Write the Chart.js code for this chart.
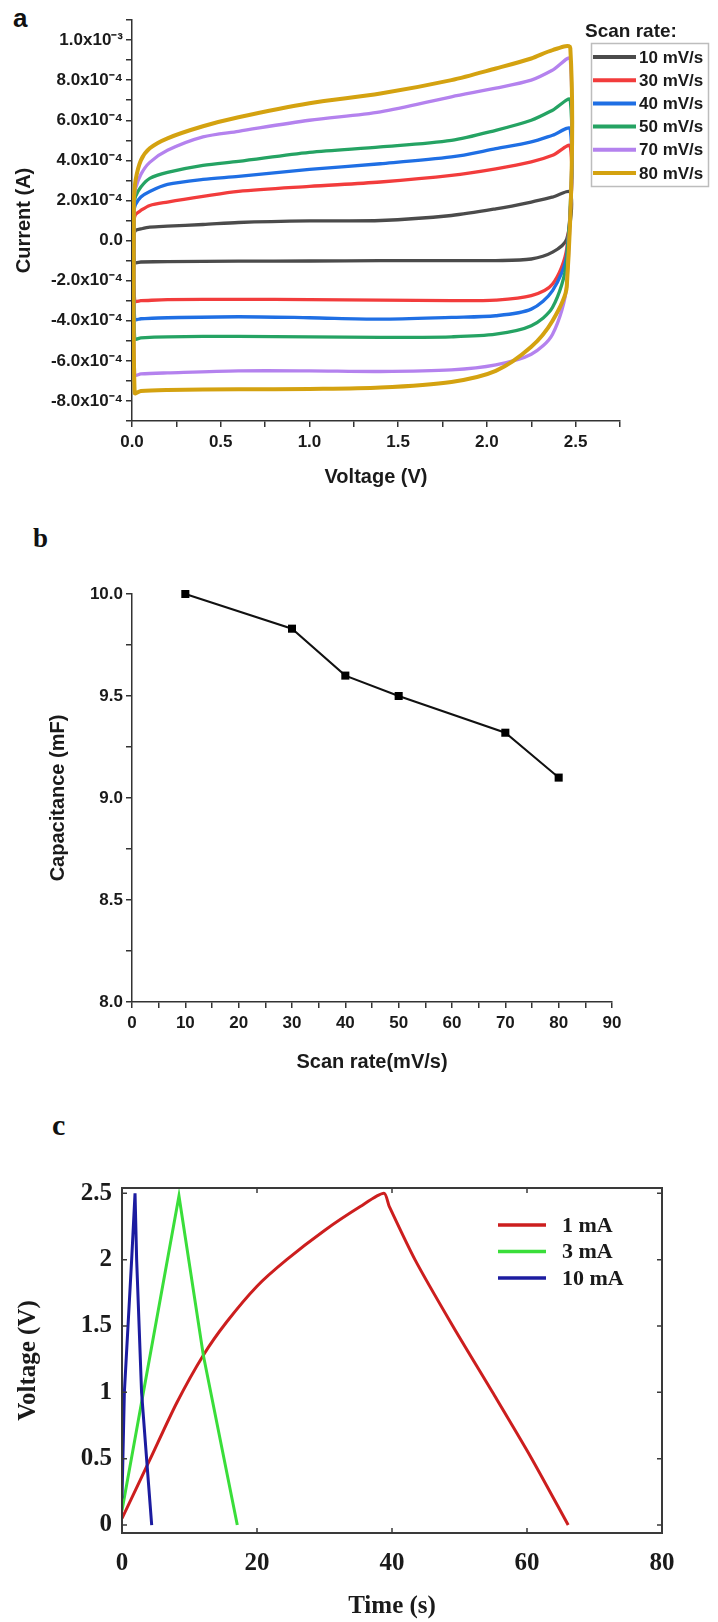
<!DOCTYPE html>
<html><head><meta charset="utf-8">
<script src="https://cdn.jsdelivr.net/npm/chart.js@4.4.0/dist/chart.umd.min.js"></script>
<style>
html,body{margin:0;padding:0;background:#fff;}
body{width:718px;height:1622px;position:relative;overflow:hidden;}
canvas{position:absolute;left:0;}
.lbl{position:absolute;color:#111;}
</style></head><body>
<div class="lbl" style="left:13px;top:5px;font:bold 26px/1 'Liberation Sans',Arial,sans-serif;">a</div>
<div class="lbl" style="left:33px;top:525px;font:bold 27px/1 'Liberation Serif','Times New Roman',serif;">b</div>
<div class="lbl" style="left:52px;top:1110px;font:bold 30px/1 'Liberation Serif','Times New Roman',serif;">c</div>
<canvas id="ca" width="718" height="500" style="top:0"></canvas>
<canvas id="cb" width="718" height="580" style="top:500px"></canvas>
<canvas id="cc" width="718" height="542" style="top:1080px"></canvas>
<script>
// ---------------- Panel a : cyclic voltammetry (current in units of 1e-4 A) ----------------
const cvSeriesLabels = ['10 mV/s', '30 mV/s', '40 mV/s', '50 mV/s', '70 mV/s', '80 mV/s'];
const cvForwardVoltage = [0.01, 0.02, 0.05, 0.1, 0.2, 0.4, 0.6, 1.0, 1.4, 1.8, 2.05, 2.25, 2.37, 2.47];
const cvReverseVoltage = [2.45, 2.37, 2.25, 2.05, 1.8, 1.4, 1.0, 0.6, 0.2, 0.05, 0.015];
const cvForward10 = [0.3, 0.5, 0.58, 0.67, 0.72, 0.8, 0.9, 0.98, 1.0, 1.25, 1.58, 1.92, 2.17, 2.4];
const cvForward30 = [1.0, 1.3, 1.5, 1.75, 1.92, 2.2, 2.45, 2.7, 2.92, 3.25, 3.58, 3.92, 4.25, 4.7];
const cvForward40 = [1.5, 1.8, 2.17, 2.45, 2.8, 3.05, 3.2, 3.55, 3.83, 4.17, 4.58, 4.92, 5.25, 5.55];
const cvForward50 = [1.8, 2.2, 2.67, 3.1, 3.4, 3.75, 3.95, 4.4, 4.67, 5.0, 5.5, 6.0, 6.5, 7.0];
const cvForward70 = [2.0, 2.6, 3.3, 3.9, 4.5, 5.17, 5.45, 6.0, 6.42, 7.17, 7.6, 8.0, 8.5, 9.05];
const cvForward80 = [2.0, 3.0, 4.0, 4.6, 5.1, 5.7, 6.15, 6.85, 7.33, 8.0, 8.58, 9.08, 9.5, 9.6];
const cvReverse10 = [0.08, -0.58, -0.92, -1.0, -1.0, -1.0, -1.02, -1.03, -1.05, -1.07, -1.08];
const cvReverse30 = [-0.4, -2.17, -2.75, -2.97, -3.0, -2.97, -2.95, -2.93, -2.95, -3.0, -3.0];
const cvReverse40 = [-0.7, -2.5, -3.42, -3.75, -3.83, -3.92, -3.85, -3.8, -3.85, -3.9, -3.92];
const cvReverse50 = [-1.0, -3.33, -4.25, -4.67, -4.8, -4.83, -4.8, -4.78, -4.8, -4.85, -4.9];
const cvReverse70 = [-2.2, -4.67, -5.67, -6.2, -6.45, -6.53, -6.5, -6.5, -6.6, -6.65, -6.7];
const cvReverse80 = [-2.3, -4.0, -5.3, -6.5, -7.05, -7.33, -7.4, -7.42, -7.45, -7.5, -7.6];
const cvVoltageTickValues = [0, 0.5, 1.0, 1.5, 2.0, 2.5];
const cvVoltageTickLabels = ['0.0', '0.5', '1.0', '1.5', '2.0', '2.5'];
const cvCurrentTickValues = [-8, -6, -4, -2, 0, 2, 4, 6, 8, 10];
const cvCurrentTickLabels = ['-8.0x10\u207B\u2074', '-6.0x10\u207B\u2074', '-4.0x10\u207B\u2074', '-2.0x10\u207B\u2074', '0.0',
  '2.0x10\u207B\u2074', '4.0x10\u207B\u2074', '6.0x10\u207B\u2074', '8.0x10\u207B\u2074', '1.0x10\u207B\u00B3'];

// ---------------- Panel b : capacitance vs scan rate ----------------
const capScanRate = [10, 30, 40, 50, 70, 80];
const capValue = [10.0, 9.83, 9.6, 9.5, 9.32, 9.1];
const capXTickValues = [0, 10, 20, 30, 40, 50, 60, 70, 80, 90];
const capXTickLabels = ['0', '10', '20', '30', '40', '50', '60', '70', '80', '90'];
const capYTickValues = [8.0, 8.5, 9.0, 9.5, 10.0];
const capYTickLabels = ['8.0', '8.5', '9.0', '9.5', '10.0'];

// ---------------- Panel c : galvanostatic charge/discharge ----------------
const gcdLabels = ['1 mA', '3 mA', '10 mA'];
const gcdTime1mA = [0, 4.2, 8.1, 12.05, 15.5, 20, 24.4, 30, 35.3, 38.8, 39.6, 43.4, 49.0, 54.9, 60.7, 66.1];
const gcdVolt1mA = [0.05, 0.5, 0.92, 1.28, 1.53, 1.8, 2.0, 2.22, 2.4, 2.5, 2.4, 2.0, 1.5, 1.0, 0.5, 0.0];
const gcdTime3mA = [0, 8.44, 12.05, 17.08];
const gcdVolt3mA = [0.11, 2.48, 1.28, 0.0];
const gcdTime10mA = [0, 0.35, 1.43, 1.93, 2.17, 2.9, 3.66, 4.4];
const gcdVolt10mA = [0.2, 1.0, 2.0, 2.5, 2.0, 1.0, 0.49, 0.0];
const gcdXTickValues = [0, 20, 40, 60, 80];
const gcdXTickLabels = ['0', '20', '40', '60', '80'];
const gcdYTickValues = [0, 0.5, 1, 1.5, 2, 2.5];
const gcdYTickLabels = ['0', '0.5', '1', '1.5', '2', '2.5'];

// ---------------- styles ----------------
const cvColors = ['#4b4b4b', '#f23c3c', '#1f6fe4', '#25a363', '#b482ee', '#d4a210'];
const gcdColors = ['#cc1e1e', '#3ade3a', '#1c1ca0'];
const SANS = "'Liberation Sans', Arial, sans-serif";
const SERIF = "'Liberation Serif', 'Times New Roman', serif";
const INK = '#1a1a1a';

function labelFor(values, labels) {
  return function (v) {
    for (let i = 0; i < values.length; i++) if (Math.abs(values[i] - v) < 1e-6) return labels[i];
    return '';
  };
}
function loop(fwdV, fwdI, revV, revI) {
  const pts = fwdV.map((v, i) => ({ x: v, y: fwdI[i] }));
  revV.forEach((v, i) => pts.push({ x: v, y: revI[i] }));
  pts.push({ x: fwdV[0], y: fwdI[0] });
  return pts;
}
function xy(xs, ys) { return xs.map((x, i) => ({ x: x, y: ys[i] })); }

// ---- Chart a ----
const cvFwd = [cvForward10, cvForward30, cvForward40, cvForward50, cvForward70, cvForward80];
const cvRev = [cvReverse10, cvReverse30, cvReverse40, cvReverse50, cvReverse70, cvReverse80];

const cvLegend = {
  id: 'cvLegend',
  afterDraw(chart) {
    const ctx = chart.ctx;
    ctx.save();
    ctx.fillStyle = INK; ctx.textAlign = 'left'; ctx.textBaseline = 'middle';
    ctx.font = 'bold 19px ' + SANS;
    ctx.fillText('Scan rate:', 585, 32);
    ctx.strokeStyle = '#bdbdbd'; ctx.lineWidth = 1.5;
    ctx.strokeRect(591.5, 43.5, 117, 143);
    ctx.font = 'bold 17px ' + SANS;
    chart.data.datasets.forEach((ds, i) => {
      const y = 57 + i * 23.2;
      ctx.strokeStyle = ds.borderColor; ctx.lineWidth = 4;
      ctx.beginPath(); ctx.moveTo(593, y); ctx.lineTo(636, y); ctx.stroke();
      ctx.fillStyle = INK; ctx.fillText(ds.label, 639, y + 1);
    });
    ctx.restore();
  }
};

new Chart(document.getElementById('ca'), {
  type: 'line',
  data: {
    datasets: cvSeriesLabels.map((lab, i) => ({
      label: lab,
      data: loop(cvForwardVoltage, cvFwd[i], cvReverseVoltage, cvRev[i]),
      borderColor: cvColors[i],
      borderWidth: i === 5 ? 4 : 3.3,
      pointRadius: 0,
      tension: 0.3,
      fill: false,
      order: 5 - i
    }))
  },
  options: {
    responsive: false, animation: false, devicePixelRatio: 1,
    layout: { padding: { left: 0, top: 20, right: 98, bottom: 0 } },
    plugins: { legend: { display: false }, tooltip: { enabled: false } },
    scales: {
      x: {
        type: 'linear', min: 0, max: 2.75,
        afterFit: s => { s.height = 79; },
        ticks: { stepSize: 0.25, autoSkip: false, maxRotation: 0, padding: 5, color: INK,
          font: { family: SANS, size: 17, weight: 'bold' },
          callback: labelFor(cvVoltageTickValues, cvVoltageTickLabels) },
        grid: { drawOnChartArea: false, drawTicks: true, tickLength: 6, color: '#333', lineWidth: 1.5 },
        border: { display: true, color: '#333', width: 1.5 },
        title: { display: true, text: 'Voltage (V)', color: INK, padding: { top: 0, bottom: 11 },
          font: { family: SANS, size: 20, weight: 'bold' } }
      },
      y: {
        type: 'linear', min: -9, max: 11,
        afterFit: s => { s.width = 132; },
        ticks: { stepSize: 1, autoSkip: false, padding: 3, color: INK,
          font: { family: SANS, size: 17, weight: 'bold' },
          callback: labelFor(cvCurrentTickValues, cvCurrentTickLabels) },
        grid: { drawOnChartArea: false, drawTicks: true, tickLength: 6, color: '#333', lineWidth: 1.5 },
        border: { display: true, color: '#333', width: 1.5 },
        title: { display: true, text: 'Current (A)', color: INK, padding: { top: 12, bottom: 0 },
          font: { family: SANS, size: 20, weight: 'bold' } }
      }
    }
  },
  plugins: [cvLegend]
});

// ---- Chart b ----
new Chart(document.getElementById('cb'), {
  type: 'line',
  data: {
    datasets: [{
      label: 'Capacitance',
      data: xy(capScanRate, capValue),
      borderColor: '#111', borderWidth: 2,
      pointStyle: 'rect', pointRadius: 5.7, pointBackgroundColor: '#000', pointBorderColor: '#000', pointBorderWidth: 0,
      tension: 0, fill: false, clip: false
    }]
  },
  options: {
    responsive: false, animation: false, devicePixelRatio: 1,
    layout: { padding: { left: 0, top: 94, right: 106, bottom: 0 } },
    plugins: { legend: { display: false }, tooltip: { enabled: false } },
    scales: {
      x: {
        type: 'linear', min: 0, max: 90,
        afterFit: s => { s.height = 78; },
        ticks: { stepSize: 5, autoSkip: false, maxRotation: 0, padding: 5, color: INK,
          font: { family: SANS, size: 17, weight: 'bold' },
          callback: labelFor(capXTickValues, capXTickLabels) },
        grid: { drawOnChartArea: false, drawTicks: true, tickLength: 6, color: '#333', lineWidth: 1.5 },
        border: { display: true, color: '#333', width: 1.5 },
        title: { display: true, text: 'Scan rate(mV/s)', color: INK, padding: { top: 0, bottom: 6 },
          font: { family: SANS, size: 20, weight: 'bold' } }
      },
      y: {
        type: 'linear', min: 8, max: 10,
        afterFit: s => { s.width = 132; },
        ticks: { stepSize: 0.25, autoSkip: false, padding: 3, color: INK,
          font: { family: SANS, size: 17, weight: 'bold' },
          callback: labelFor(capYTickValues, capYTickLabels) },
        grid: { drawOnChartArea: false, drawTicks: true, tickLength: 6, color: '#333', lineWidth: 1.5 },
        border: { display: true, color: '#333', width: 1.5 },
        title: { display: true, text: 'Capacitance (mF)', color: INK, padding: { top: 46, bottom: 0 },
          font: { family: SANS, size: 20, weight: 'bold' } }
      }
    }
  }
});

// ---- Chart c ----
const gcdFrame = {
  id: 'gcdFrame',
  afterDraw(chart) {
    const ctx = chart.ctx, a = chart.chartArea, sx = chart.scales.x, sy = chart.scales.y;
    ctx.save();
    ctx.strokeStyle = '#3a3a3a'; ctx.lineWidth = 2;
    ctx.strokeRect(a.left, a.top, a.right - a.left, a.bottom - a.top);
    ctx.lineWidth = 1.5;
    ctx.beginPath();
    sx.ticks.forEach(t => {
      const p = sx.getPixelForValue(t.value);
      if (p > a.left + 2 && p < a.right - 2) {
        ctx.moveTo(p, a.bottom); ctx.lineTo(p, a.bottom - 5);
        ctx.moveTo(p, a.top); ctx.lineTo(p, a.top + 5);
      }
    });
    sy.ticks.forEach(t => {
      const p = sy.getPixelForValue(t.value);
      if (p > a.top + 2 && p < a.bottom - 2) {
        ctx.moveTo(a.left, p); ctx.lineTo(a.left + 5, p);
        ctx.moveTo(a.right, p); ctx.lineTo(a.right - 5, p);
      }
    });
    ctx.stroke();
    // legend
    ctx.font = 'bold 22px ' + SERIF; ctx.textAlign = 'left'; ctx.textBaseline = 'middle';
    chart.data.datasets.forEach((ds, i) => {
      const y = 145 + i * 26.5;
      ctx.strokeStyle = ds.borderColor; ctx.lineWidth = 3.5;
      ctx.beginPath(); ctx.moveTo(498, y); ctx.lineTo(546, y); ctx.stroke();
      ctx.fillStyle = INK; ctx.fillText(ds.label, 562, y + 1);
    });
    ctx.restore();
  }
};

const gcdData = [xy(gcdTime1mA, gcdVolt1mA), xy(gcdTime3mA, gcdVolt3mA), xy(gcdTime10mA, gcdVolt10mA)];
new Chart(document.getElementById('cc'), {
  type: 'line',
  data: {
    datasets: gcdLabels.map((lab, i) => ({
      label: lab, data: gcdData[i], borderColor: gcdColors[i], borderWidth: 3,
      pointRadius: 0, tension: i === 0 ? 0.25 : 0, fill: false, order: 2 - i
    }))
  },
  options: {
    responsive: false, animation: false, devicePixelRatio: 1,
    layout: { padding: { left: 0, top: 108, right: 56, bottom: 0 } },
    plugins: { legend: { display: false }, tooltip: { enabled: false } },
    scales: {
      x: {
        type: 'linear', min: 0, max: 80,
        afterFit: s => { s.height = 89; },
        ticks: { stepSize: 20, autoSkip: false, maxRotation: 0, padding: 16, color: INK,
          font: { family: SERIF, size: 25, weight: 'bold' },
          callback: labelFor(gcdXTickValues, gcdXTickLabels) },
        grid: { display: false, drawTicks: false },
        border: { display: false },
        title: { display: true, text: 'Time (s)', color: INK, padding: { top: 0, bottom: 0 },
          font: { family: SERIF, size: 25, weight: 'bold' } }
      },
      y: {
        type: 'linear', min: -0.06, max: 2.54,
        afterFit: s => { s.width = 122; },
        ticks: { stepSize: 0.5, includeBounds: false, autoSkip: false, padding: 10, color: INK,
          font: { family: SERIF, size: 25, weight: 'bold' },
          callback: labelFor(gcdYTickValues, gcdYTickLabels) },
        grid: { display: false, drawTicks: false },
        border: { display: false },
        title: { display: true, text: 'Voltage (V)', color: INK, padding: { top: 14, bottom: 0 },
          font: { family: SERIF, size: 25, weight: 'bold' } }
      }
    }
  },
  plugins: [gcdFrame]
});
</script>
</body></html>
